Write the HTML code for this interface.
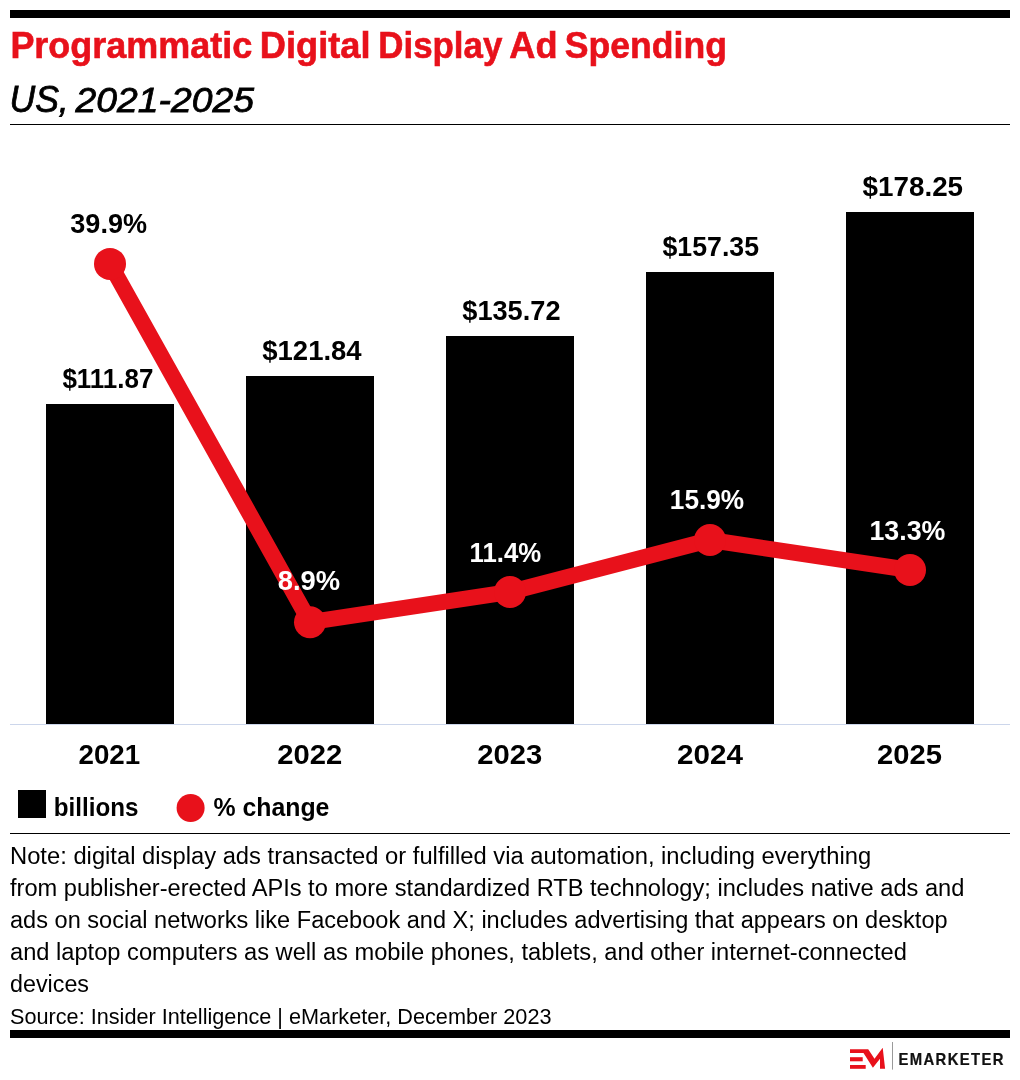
<!DOCTYPE html>
<html lang="en">
<head>
<meta charset="utf-8">
<title>Programmatic Digital Display Ad Spending</title>
<style>
  html, body { margin: 0; padding: 0; background: #ffffff; }
  body { width: 1020px; height: 1080px; overflow: hidden; }
  svg { display: block; }
  text { font-family: "Liberation Sans", sans-serif; }
  .b { font-weight: bold; }
  .lab { font-weight: bold; font-size: 27px; fill: #000; }
  .labw { font-weight: bold; font-size: 27px; fill: #fff; }
  .note { font-size: 23.5px; fill: #000; }
</style>
</head>
<body>
<svg width="1020" height="1080" viewBox="0 0 1020 1080">
  <rect x="0" y="0" width="1020" height="1080" fill="#ffffff"/>

  <!-- header -->
  <rect id="topbar" x="10" y="10" width="1000" height="8" fill="#000"/>
  <text id="title" y="58.2" class="b" font-size="36" fill="#e8111b" stroke="#e8111b" stroke-width="0.6"><tspan id="t1" x="10.4" textLength="241.8" lengthAdjust="spacingAndGlyphs">Programmatic</tspan> <tspan id="t2" x="259.8" textLength="110.7" lengthAdjust="spacingAndGlyphs">Digital</tspan> <tspan id="t3" x="378.3" textLength="124.0" lengthAdjust="spacingAndGlyphs">Display</tspan> <tspan id="t4" x="509.3" textLength="48.2" lengthAdjust="spacingAndGlyphs">Ad</tspan> <tspan id="t5" x="564.8" textLength="162.1" lengthAdjust="spacingAndGlyphs">Spending</tspan></text>
  <text id="subtitle" y="112.2" font-size="35.5" font-style="italic" fill="#000" stroke="#000" stroke-width="0.8"><tspan id="s1" x="9.5" textLength="59.2" lengthAdjust="spacingAndGlyphs" font-size="37">US,</tspan> <tspan id="s2" x="75.6" textLength="178.4" lengthAdjust="spacingAndGlyphs">2021-2025</tspan></text>
  <rect id="rule1" x="10" y="124" width="1000" height="1" fill="#000"/>

  <!-- bars -->
  <g id="bars" fill="#000">
    <rect x="46" y="404" width="128" height="320"/>
    <rect x="246" y="376" width="128" height="348"/>
    <rect x="446" y="336" width="128" height="388"/>
    <rect x="646" y="272" width="128" height="452"/>
    <rect x="846" y="212" width="128" height="512"/>
  </g>
  <rect id="axis" x="10" y="724" width="1000" height="1" fill="#ccd6eb"/>

  <!-- line series -->
  <polyline id="line" points="110,263.9 310,622.2 510,592 710,540 910,570" fill="none" stroke="#e8111b" stroke-width="16" stroke-linejoin="round" stroke-linecap="round"/>
  <g id="dots" fill="#e8111b">
    <circle cx="110" cy="263.9" r="16"/>
    <circle cx="310" cy="622.2" r="16"/>
    <circle cx="510" cy="592" r="16"/>
    <circle cx="710" cy="540" r="16"/>
    <circle cx="910" cy="570" r="16"/>
  </g>

  <!-- bar value labels -->
  <text id="v1" class="lab" x="62.4" y="387.7" textLength="91" lengthAdjust="spacingAndGlyphs">$111.87</text>
  <text id="v2" class="lab" x="262.3" y="360.2" textLength="99.3" lengthAdjust="spacingAndGlyphs">$121.84</text>
  <text id="v3" class="lab" x="462.3" y="320" textLength="98.2" lengthAdjust="spacingAndGlyphs">$135.72</text>
  <text id="v4" class="lab" x="662.5" y="256" textLength="96.5" lengthAdjust="spacingAndGlyphs">$157.35</text>
  <text id="v5" class="lab" x="862.6" y="196" textLength="100.5" lengthAdjust="spacingAndGlyphs">$178.25</text>

  <!-- percent labels -->
  <text id="p1" class="lab" x="70.3" y="232.6" textLength="76.7" lengthAdjust="spacingAndGlyphs">39.9%</text>
  <text id="p2" class="labw" x="277.7" y="590" textLength="62.4" lengthAdjust="spacingAndGlyphs">8.9%</text>
  <text id="p3" class="labw" x="469.5" y="561.7" textLength="71.7" lengthAdjust="spacingAndGlyphs">11.4%</text>
  <text id="p4" class="labw" x="669.8" y="508.8" textLength="74.4" lengthAdjust="spacingAndGlyphs">15.9%</text>
  <text id="p5" class="labw" x="869.4" y="539.7" textLength="76" lengthAdjust="spacingAndGlyphs">13.3%</text>

  <!-- x axis labels -->
  <text id="x1" class="lab" x="78.5" y="764" textLength="61.7" lengthAdjust="spacingAndGlyphs">2021</text>
  <text id="x2" class="lab" x="277.3" y="764" textLength="65" lengthAdjust="spacingAndGlyphs">2022</text>
  <text id="x3" class="lab" x="477.3" y="764" textLength="65" lengthAdjust="spacingAndGlyphs">2023</text>
  <text id="x4" class="lab" x="677" y="764" textLength="66" lengthAdjust="spacingAndGlyphs">2024</text>
  <text id="x5" class="lab" x="877" y="764" textLength="65" lengthAdjust="spacingAndGlyphs">2025</text>

  <!-- legend -->
  <rect id="lgsq" x="18" y="790" width="28" height="28" fill="#000"/>
  <text id="lg1" class="b" font-size="25" x="53.8" y="815.6" fill="#000" textLength="84.7" lengthAdjust="spacingAndGlyphs">billions</text>
  <circle id="lgdot" cx="190.6" cy="808" r="14" fill="#e8111b"/>
  <text id="lg2" class="b" font-size="25" x="213.4" y="815.6" fill="#000" textLength="116" lengthAdjust="spacingAndGlyphs">% change</text>
  <rect id="rule2" x="10" y="833" width="1000" height="1" fill="#000"/>

  <!-- notes -->
  <text id="n1" class="note" x="10" y="863.5" textLength="861.1" lengthAdjust="spacingAndGlyphs">Note: digital display ads transacted or fulfilled via automation, including everything</text>
  <text id="n2" class="note" x="10" y="895.5" textLength="954.4" lengthAdjust="spacingAndGlyphs">from publisher-erected APIs to more standardized RTB technology; includes native ads and</text>
  <text id="n3" class="note" x="10" y="927.5" textLength="937.6" lengthAdjust="spacingAndGlyphs">ads on social networks like Facebook and X; includes advertising that appears on desktop</text>
  <text id="n4" class="note" x="10" y="959.5" textLength="896.8" lengthAdjust="spacingAndGlyphs">and laptop computers as well as mobile phones, tablets, and other internet-connected</text>
  <text id="n5" class="note" x="10" y="991.8" textLength="79.0" lengthAdjust="spacingAndGlyphs">devices</text>
  <text id="n6" class="note" style="font-size:21.5px" x="10" y="1024" textLength="541.5" lengthAdjust="spacingAndGlyphs">Source: Insider Intelligence | eMarketer, December 2023</text>
  <rect id="botbar" x="10" y="1030" width="1000" height="8" fill="#000"/>

  <!-- logo -->
  <g id="logo">
    <polygon fill="#e8111b" points="850,1049.2 868.2,1049.2 874.5,1058.7 882.7,1047.8 885.1,1068.8 880,1068.8 880,1058.7 872.9,1067.8 863.5,1053.1 850,1053.1"/>
    <rect fill="#e8111b" x="850" y="1057.2" width="12.7" height="4.1"/>
    <rect fill="#e8111b" x="850" y="1065" width="15.7" height="3.8"/>
    <rect fill="#9a9a9a" x="892" y="1042" width="1" height="27.6"/>
    <text id="brand" class="b" font-size="16.5" transform="translate(898.4,1064.8) scale(0.9,1)" x="0" y="0" fill="#111" stroke="#111" stroke-width="0.25" letter-spacing="1.55">EMARKETER</text>
  </g>
</svg>
</body>
</html>
